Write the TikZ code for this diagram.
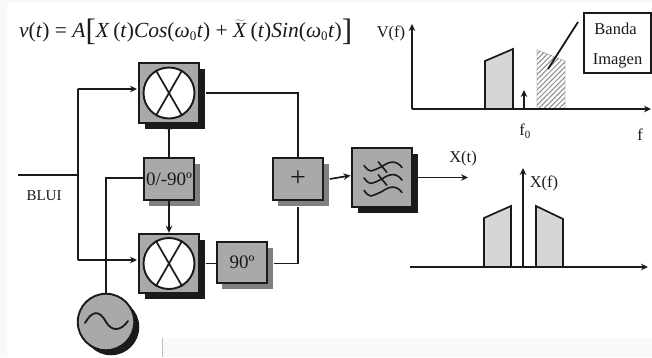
\documentclass[tikz,border=0pt]{standalone}
\usepackage{fontspec}
\setmainfont{Liberation Serif}
\usetikzlibrary{arrows.meta,shadows,patterns.meta,calc}
\definecolor{ink}{HTML}{1A1A1A}
\definecolor{boxgray}{HTML}{A9A9A9}
\definecolor{specgray}{HTML}{D6D6D6}
\definecolor{bggray}{HTML}{F9F9F9}
\newcommand{\eqbrack}[1]{\raisebox{-3.5pt}{\fontsize{31}{31}\selectfont #1}}
\newcommand{\eqsub}{\textsubscript{\fontsize{13}{13}\selectfont 0}}
\tikzset{
  wire/.style={draw=ink,line width=1.7pt},
  arrowwire/.style={wire,-{Stealth[length=7pt,width=6.5pt]}},
  blockbase/.style={draw=ink,line width=1.9pt,fill=boxgray,inner sep=0pt,text=ink},
  bigblock/.style={blockbase,minimum width=60pt,minimum height=59.5pt,
    drop shadow={shadow xshift=6pt,shadow yshift=-6pt,fill=ink,opacity=1}},
  smallblock/.style={blockbase,minimum width=50.5pt,minimum height=41.5pt,
    drop shadow={shadow xshift=5.5pt,shadow yshift=-6pt,fill=black!50,opacity=1}},
  mixcircle/.style={circle,draw=ink,line width=1.9pt,fill=white,minimum size=51pt,inner sep=0pt},
  osc/.style={circle,blockbase,minimum size=56.5pt,
    drop shadow={shadow xshift=5pt,shadow yshift=-5pt,fill=ink,opacity=1}},
  lab/.style={font=\fontsize{16.5}{18}\selectfont,text=ink,inner sep=0pt},
  spectrum/.style={draw=ink,line width=1.7pt,fill=specgray,line join=miter},
  axis/.style={draw=ink,line width=1.7pt,-{Stealth[length=7pt,width=6.5pt]}},
}
\begin{document}
\begin{tikzpicture}[x=1pt,y=-1pt]
% page
\path[use as bounding box,fill=bggray] (0,0) rectangle (652,357);
\fill[white] (7,3) rectangle (652,338);
\fill[white] (7,338) rectangle (162,357);
\draw[black!25,line width=.8pt] (162.5,338) -- (162.5,357);
% equation
\node[anchor=base west,inner sep=0pt,text=ink,font=\fontsize{21.5}{24}\selectfont] (eq) at (19,37)
  {\textit{v}(\textit{t}) = \textit{A}\eqbrack{[}\textit{X}\,(\textit{t})\textit{Cos}(\textit{ω}\eqsub\textit{t}) + $\widetilde{\hbox{\textit{X}}}$\,(\textit{t})\textit{Sin}(\textit{ω}\eqsub\textit{t})\eqbrack{]}};
% blocks
\node[bigblock] (m1) at (169,93) {};
\node[mixcircle] (m1c) at (169,93) {};
\draw[wire] (m1c.60) -- (m1c.240) (m1c.120) -- (m1c.300);
\node[bigblock] (m2) at (169,263.5) {};
\node[mixcircle] (m2c) at (169,263.5) {};
\draw[wire] (m2c.60) -- (m2c.240) (m2c.120) -- (m2c.300);
\node[smallblock,font=\fontsize{19}{20}\selectfont] (ph) at (169,179) {0/-90º};
\node[smallblock,font=\fontsize{28}{28}\selectfont] (sum) at (298,179) {+};
\node[smallblock,font=\fontsize{19}{20}\selectfont] (d90) at (242,262.5) {90º};
\node[bigblock] (flt) at (382,177.5) {};
\node[osc] (lo) at (106,322) {};
% symbols in filter and oscillator
\foreach \r in {-11,1.5,14}{
  \draw[ink,line width=1.6pt,line cap=round] ($(flt.center)+(-18,\r-1)$) .. controls +(6,7) and +(-13,6) .. ($(flt.center)+(0,\r)$) .. controls +(7,-5) and +(-6,-8) .. ($(flt.center)+(20,\r+1)$);
}
\draw[ink,line width=1.6pt] ($(flt.center)+(-4,-16)$) -- ($(flt.center)+(5,-5)$);
\draw[ink,line width=1.6pt] ($(flt.center)+(-4,-3)$) -- ($(flt.center)+(5,8)$);
\draw[ink,line width=1.8pt,line cap=round] ($(lo.center)+(-21,1)$) .. controls +(7,-12) and +(-7,-13) .. ($(lo.center)+(0,0)$) .. controls +(6,10) and +(-7,10) .. ($(lo.center)+(22,-1)$);
% connectors
\coordinate (inp) at (18,175);
\coordinate (jn) at (78,175);
\coordinate (up) at (78,89);
\coordinate (dn) at (78,260);
\draw[wire] (inp) -- (jn);
\draw[arrowwire,rounded corners=.5pt] (jn) -- (up) -- (137,89);
\draw[arrowwire,rounded corners=.5pt] (jn) -- (dn) -- (137,260);
\draw[wire,-{Stealth[length=5pt,width=5pt]}] (ph.north) -- ([yshift=-1pt]m1.south);
\draw[arrowwire] (ph.south) -- (m2.north);
\draw[wire] ([yshift=1pt]ph.west) -| (lo.north);
\draw[wire] ([xshift=6pt]m1.east) -| (sum.north);
\draw[wire] ([xshift=6pt]m2.east) -- (d90.west |- m2.east);
\draw[wire] ([xshift=5.5pt]d90.east |- m2.east) -| ([yshift=-6pt]sum.south);
\draw[arrowwire] ([xshift=5.5pt]sum.east) -- ([xshift=-.5pt,yshift=2pt]flt.west);
\coordinate (xend) at (468,177.5);
\draw[arrowwire,line width=1.8pt] (flt.east) -- (xend);
% labels
\node[lab,font=\fontsize{15}{16}\selectfont] (blui) at (44,196) {BLUI};
\node[lab] (xt) at (463,159) {X(t)};
% upper spectrum
\coordinate (o1) at (412,109);
\coordinate (y1) at (412,24);
\coordinate (x1) at (651,109);
\path[pattern={Lines[angle=45,distance=3.6pt,line width=1pt]},pattern color=black!45] (537,50) -- (565,61) -- (565,109) -- (537,109) -- cycle;
\draw[black!45,line width=.9pt,densely dotted] (537,109) -- (537,50) -- (565,61) -- (565,109);
\draw[spectrum] (485,109) -- (485,61) -- (513,49) -- (513,109) -- cycle;
\draw[axis] (o1) -- (y1);
\draw[axis] (o1) -- (x1);
\coordinate (f0b) at (524,109);
\coordinate (f0t) at (524,90);
\draw[axis] (f0b) -- (f0t);
\node[lab] (vf) at (391,33) {V(f)};
\node[lab] (f0) at (525,131) {f\textsubscript{\fontsize{11}{11}\selectfont 0}};
\node[lab] (fl) at (640,135) {f};
\node[draw=ink,line width=1.6pt,fill=white,minimum width=67pt,minimum height=60.5pt,inner sep=0pt] (bi) at (617.5,43) {};
\node[lab] (ba) at (615.5,29) {Banda};
\node[lab] (im) at (617.5,61) {Imagen};
\coordinate (cl1) at (578,22);
\coordinate (cl2) at (548,69);
\draw[wire,line width=1.8pt] (cl1) -- (cl2);
% lower spectrum
\draw[spectrum] (484,267) -- (484,218) -- (511,206) -- (511,267) -- cycle;
\draw[spectrum] (536,267) -- (536,206) -- (563,219) -- (563,267) -- cycle;
\coordinate (o2) at (410,267);
\coordinate (x2) at (648,267);
\coordinate (o3) at (523,267);
\coordinate (y3) at (523,168);
\draw[axis] (o2) -- (x2);
\draw[axis] (o3) -- (y3);
\node[lab] (xf) at (544,183) {X(f)};
\end{tikzpicture}
\end{document}
